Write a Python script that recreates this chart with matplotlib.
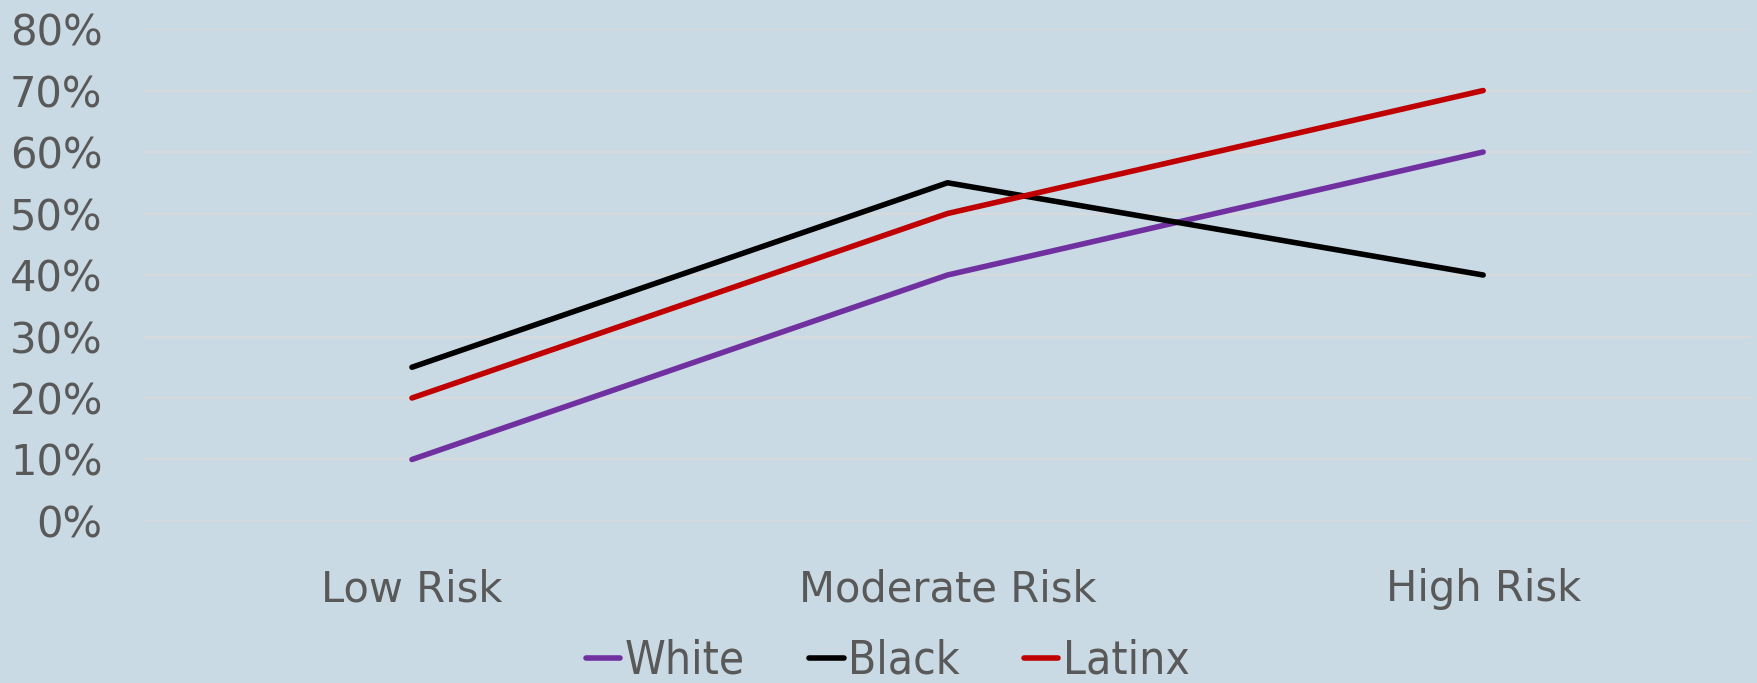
import matplotlib.pyplot as plt
from matplotlib.ticker import PercentFormatter

categories = ["Low Risk", "Moderate Risk", "High Risk"]
white = [0.10, 0.40, 0.60]
black = [0.25, 0.55, 0.40]
latinx = [0.20, 0.50, 0.70]
yticks = [0.0, 0.1, 0.2, 0.3, 0.4, 0.5, 0.6, 0.7, 0.8]

bg = "#C9DAE4"
text_color = "#595959"

fig = plt.figure(figsize=(17.58, 6.83), dpi=100, facecolor=bg)
ax = fig.add_axes([0.082, 0.2372, 0.914, 0.7203], facecolor=bg)

x = range(len(categories))
ax.plot(x, white, color="#7030A0", lw=4, solid_capstyle="round", label="White")
ax.plot(x, black, color="#000000", lw=4, solid_capstyle="round", label="Black")
ax.plot(x, latinx, color="#C00000", lw=4, solid_capstyle="round", label="Latinx")

ax.set_xlim(-0.5, 2.5)
ax.set_ylim(0, 0.8)
ax.set_yticks(yticks)
ax.yaxis.set_major_formatter(PercentFormatter(1.0, decimals=0))
ax.set_xticks(list(x))
ax.set_xticklabels(categories)
ax.grid(axis="y", color="#D9D9D9", lw=1.3)
ax.set_axisbelow(True)
for s in ax.spines.values():
    s.set_visible(False)
ax.tick_params(axis="both", length=0, labelsize=30, labelcolor=text_color)
ax.tick_params(axis="y", pad=30)
ax.tick_params(axis="x", pad=34)

leg = fig.legend(loc="center", bbox_to_anchor=(0.505, 0.032), ncol=3, frameon=False,
                 handlelength=0.75, handletextpad=0.1, columnspacing=1.4,
                 prop={"family": "DejaVu Sans", "stretch": "condensed", "size": 33})
for t in leg.get_texts():
    t.set_color(text_color)

fig.savefig("out.png", dpi=100, facecolor=bg)
